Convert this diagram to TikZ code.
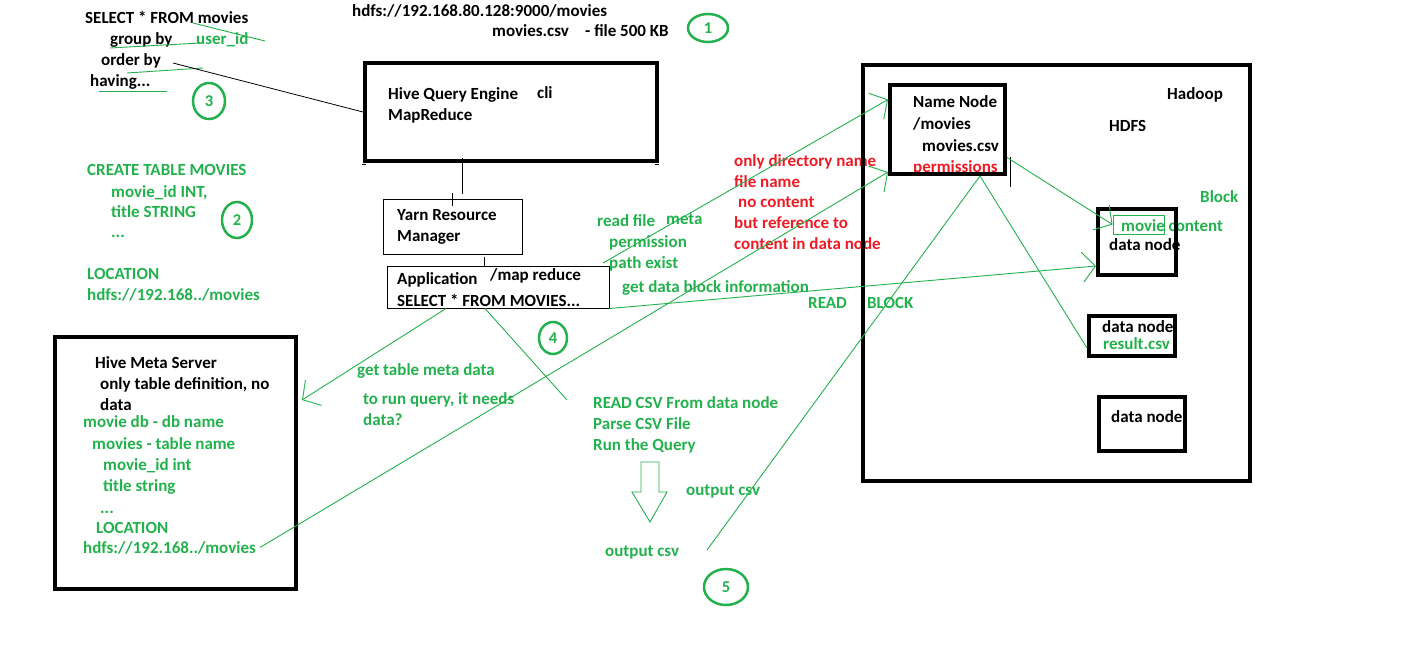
\documentclass[tikz,border=0pt]{standalone}
\usepackage{fontspec}
\setmainfont{Carlito}
\usetikzlibrary{arrows.meta,shapes.geometric,calc}
\definecolor{pgreen}{RGB}{34,177,76}
\definecolor{pred}{RGB}{237,28,36}
\begin{document}
\begin{tikzpicture}[
    x=1pt, y=-1pt,
    txt/.style={font=\bfseries\fontsize{17}{20}\selectfont, inner sep=0pt, anchor=base west},
    gtxt/.style={txt, text=pgreen},
    rtxt/.style={txt, text=pred},
    heavybox/.style={draw, line width=4pt, inner sep=0pt},
    thinbox/.style={draw, line width=1pt, inner sep=0pt},
    numring/.style={ellipse, draw=pgreen, line width=2.5pt, text=pgreen, font=\bfseries\fontsize{16.5}{20}\selectfont, inner sep=0pt},
    glink/.style={draw=pgreen, line width=0.9pt},
    garrow/.style={glink, -{Straight Barb[length=13pt, width=30pt]}}
    ]
    \useasboundingbox (0,0) rectangle (1416,659);

    % query text, top left
    \node[txt] (sqlsel) at (85,23) {SELECT * FROM movies};
    \node[txt] (sqlgrp) at (110,44) {group by};
    \node[gtxt] (sqluid) at (196,44) {user\_id};
    \node[txt] (sqlord) at (101,65) {order by};
    \node[txt] (sqlhav) at (90,86) {having...};
    \draw[glink] (193,23) -- (265,41);
    \draw[glink] (110,48) -- (200,43);
    \draw[glink] (127,73) -- (203,68);
    \draw[glink] (99,91) -- (167,91);
    \node[numring, minimum width=32pt, minimum height=36pt] (ring3) at (209,101) {3};

    \node[txt] (hdfsurl) at (352,16) {hdfs://192.168.80.128:9000/movies};
    \node[txt] (csvname) at (492,36) {movies.csv};
    \node[txt] (csvsize) at (585,36) {- file 500 KB};
    \node[numring, minimum width=40pt, minimum height=28pt] (ring1) at (708,28) {1};

    % hive engine, yarn, application
    \node[heavybox, minimum width=292pt, minimum height=98pt] (hive) at (511,112) {};
    \node[txt] (hiveqe) at (388,99) {Hive Query Engine};
    \node[txt] (hivecli) at (537,98) {cli};
    \node[txt] (hivemr) at (388,120) {MapReduce};
    \draw (362,164) -- (366,164) (655,164) -- (659,164);

    \node[thinbox, minimum width=139pt, minimum height=55pt] (yarn) at (452.5,226.5) {};
    \node[txt] (yarnrm) at (397,220) {Yarn Resource};
    \node[txt] (yarnmgr) at (397,241) {Manager};

    \node[thinbox, minimum width=222pt, minimum height=42pt] (app) at (498,287) {};
    \node[txt] (appname) at (397,284) {Application};
    \node[txt] (appmr) at (490,280) {/map reduce};
    \node[txt] (appsql) at (397,306) {SELECT * FROM MOVIES...};

    \coordinate (hivetick) at (462,158);
    \coordinate (yarntick) at (452,193);
    \coordinate (apptick) at (484,257);
    \draw (hivetick) -- ++(0,36);
    \draw (yarntick) -- ++(0,13);
    \draw (apptick) -- (apptick |- app.north);

    % create table, left
    \node[gtxt] (crtab) at (87,175) {CREATE TABLE MOVIES};
    \node[gtxt] (crid) at (111,197) {movie\_id INT,};
    \node[gtxt] (crtitle) at (111,217) {title STRING};
    \node[gtxt] (crdots) at (111,237) {...};
    \node[gtxt] (crloc) at (87,279) {LOCATION};
    \node[gtxt] (crurl) at (87,300) {hdfs://192.168../movies};
    \node[numring, minimum width=30pt, minimum height=36pt] (ring2) at (237,220) {2};

    % hive meta server
    \node[heavybox, minimum width=241pt, minimum height=252pt] (meta) at (175.5,463) {};
    \node[txt] (metaname) at (95,368) {Hive Meta Server};
    \node[txt] (metadef) at (100,389) {only table definition, no};
    \node[txt] (metadata) at (100,410) {data};
    \node[gtxt] (metadb) at (83,427) {movie db - db name};
    \node[gtxt] (metatab) at (92,449) {movies - table name};
    \node[gtxt] (metaid) at (103,470) {movie\_id int};
    \node[gtxt] (metatitle) at (103,491) {title string};
    \node[gtxt] (metadots) at (100,513) {...};
    \node[gtxt] (metaloc) at (96,533) {LOCATION};
    \node[gtxt] (metaurl) at (83,553) {hdfs://192.168../movies};

    % middle notes
    \node[gtxt] (rdfile) at (597,226) {read file};
    \node[gtxt] (rdmeta) at (666,224) {meta};
    \node[gtxt] (rdperm) at (609,247) {permission};
    \node[gtxt] (rdpath) at (609,268) {path exist};
    \node[gtxt] (rdblock) at (622,292) {get data block information};
    \node[gtxt] (rdread) at (808,308) {READ};
    \node[gtxt] (rdblk) at (867,308) {BLOCK};
    \node[rtxt] (nnonly) at (734,166) {only directory name};
    \node[rtxt] (nnfile) at (734,187) {file name};
    \node[rtxt] (nnnone) at (738,207) {no content};
    \node[rtxt] (nnref) at (734,228) {but reference to};
    \node[rtxt] (nncont) at (734,249) {content in data node};

    \node[gtxt] (tabmeta) at (357,375) {get table meta data};
    \node[gtxt] (runq) at (363,404) {to run query, it needs};
    \node[gtxt] (runqdata) at (363,425) {data?};
    \node[numring, minimum width=28pt, minimum height=32pt] (ring4) at (553,338) {4};

    \node[gtxt] (stepread) at (593,408) {READ CSV From data node};
    \node[gtxt] (stepparse) at (593,429) {Parse CSV File};
    \node[gtxt] (steprun) at (593,450) {Run the Query};
    \draw[glink] (641,462) -- (659,462) -- (659,492) -- (667,492) -- (650,522) -- (632,492) -- (641,492) -- cycle;
    \node[gtxt] (outcsva) at (686,495) {output csv};
    \node[gtxt] (outcsvb) at (605,556) {output csv};
    \node[numring, minimum width=44pt, minimum height=36pt] (ring5) at (726,587) {5};

    % hadoop / hdfs
    \node[heavybox, minimum width=387pt, minimum height=416pt] (hadoop) at (1056.5,273) {};
    \node[txt] (hadoopname) at (1167,99) {Hadoop};
    \node[txt] (hdfsname) at (1109,131) {HDFS};

    \node[txt] (nnname) at (913,107) {Name Node};
    \node[txt] (nndir) at (913,129) {/movies};
    \node[txt] (nncsv) at (922,151) {movies.csv};
    \node[rtxt] (nnperm) at (913,172) {permissions};
    \node[heavybox, minimum width=115pt, minimum height=89pt] (nn) at (947.5,129.5) {};
    \coordinate (nnmark) at (1010,157);
    \draw (nnmark) -- ++(0,30);

    \node[gtxt] (blkname) at (1200,202) {Block};
    \node[gtxt] (mvcont) at (1121,231) {movie content};
    \node[thinbox, draw=pgreen, minimum width=51pt, minimum height=19pt] (mvbox) at (1138.5,224.5) {};
    \node[txt] (dnamea) at (1109,250) {data node};
    \node[heavybox, minimum width=78pt, minimum height=66pt] (dna) at (1137,242) {};

    \node[txt] (dnameb) at (1102,332) {data node};
    \node[gtxt] (rescsv) at (1103,349) {result.csv};
    \node[heavybox, minimum width=86pt, minimum height=40pt] (dnb) at (1132,336) {};

    \node[txt] (dnamec) at (1111,422) {data node};
    \node[heavybox, minimum width=86pt, minimum height=54pt] (dnc) at (1142,424) {};

    % connectors
    \coordinate (sqlend) at (173,63);
    \coordinate (rdstart) at (603,263);
    \coordinate (outend) at (707,550);
    \coordinate (q4end) at (567,400);
    \draw[line width=0.8pt] (sqlend) -- (hive.west);
    \draw[garrow] (rdstart) -- ([yshift=30pt]nn.west);
    \draw[garrow] ([xshift=4pt]metaurl.east) -- ([yshift=4pt]nn.south west);
    \draw[garrow] (app.south east) -- ([yshift=-24pt]dna.west);
    \draw[garrow] ([yshift=-28pt]nn.east) -- (mvbox.west);
    \draw[glink] ([xshift=32.5pt]nn.south) -- ([yshift=-12pt]dnb.west);
    \draw[glink] ([xshift=32.5pt]nn.south) -- (outend);
    \draw[garrow] ([xshift=-52pt]app.south) -- ([xshift=4pt, yshift=63pt]meta.east);
    \draw[glink] ([xshift=-13pt]app.south) -- (q4end);
\end{tikzpicture}
\end{document}
